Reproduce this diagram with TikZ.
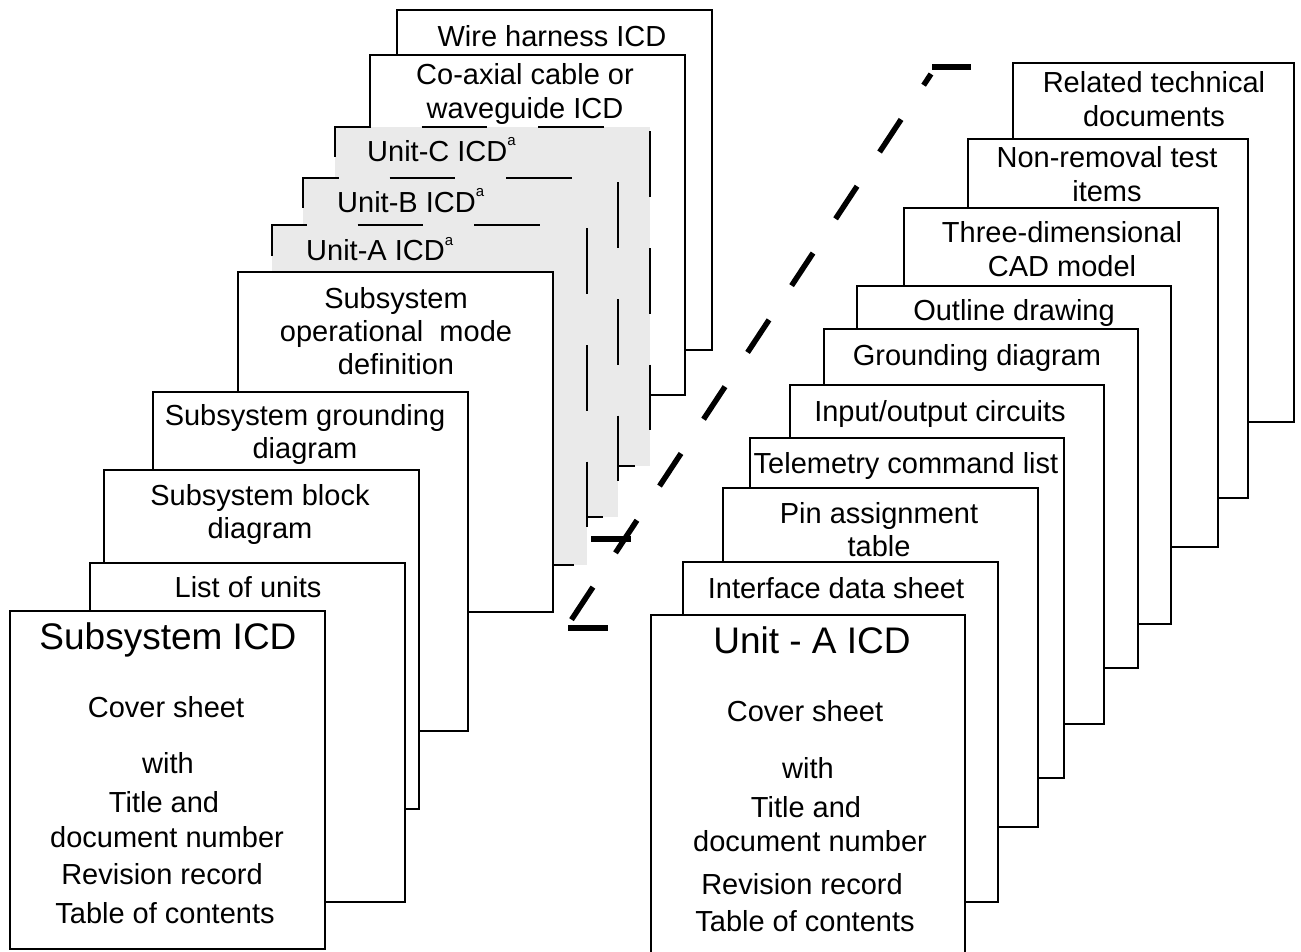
\documentclass[tikz,border=0pt]{standalone}
\usepackage{fontspec}
\setmainfont{Liberation Sans}
\definecolor{pagegrey}{RGB}{234,234,234}
\newcommand\fs{\fontsize{29}{33.3}\selectfont}
\newcommand\fb{\fontsize{37}{40}\selectfont}
\newcommand\ml[1]{\begin{tabular}[t]{@{}c@{}}#1\end{tabular}}
\newcommand\supa{\raisebox{16pt}{\fontsize{15}{15}\selectfont a}}
\tikzset{
  page/.style={draw=black, line width=2pt, fill=white, inner sep=0pt, outer sep=0pt, anchor=north west},
  gpage/.style={fill=pagegrey, inner sep=0pt, outer sep=0pt, anchor=north west},
  gedge/.style={draw=black, line width=2pt, dash pattern=on 65.5pt off 51pt, dash phase=40.5pt},
  txt/.style={font=\fs, inner sep=0pt, anchor=base},
  txtw/.style={font=\fs, inner sep=0pt, anchor=base west},
  ttl/.style={font=\fb, inner sep=0pt, anchor=base},
  zline/.style={line width=5.5pt, dash pattern=on 39pt off 41pt, dash phase=70pt},
  zbar/.style={line width=5.5pt},
}
\begin{document}
\begin{tikzpicture}[x=1pt,y=-1pt]
\useasboundingbox (0,0) rectangle (1301,952);
% ---------------- left stack (back to front)
\node[page, minimum width=315pt, minimum height=340pt] (wire) at (397,10) {};
\node[txt] (twire) at (552,47) {Wire harness ICD};
\node[page, minimum width=315pt, minimum height=340pt] (coax) at (370,55) {};
\node[txt] (tcoax) at (525,85) {\ml{Co-axial cable or\\waveguide ICD}};
% grey unit ICDs
\node[gpage, minimum width=315pt, minimum height=339pt] (uc) at (335,127) {};
\draw[gedge] (uc.south west) -- (uc.north west) -- (uc.north east) -- (uc.south east) -- cycle;
\node[txtw] (tuc) at (367,162) {Unit-C ICD\supa};
\node[gpage, minimum width=315pt, minimum height=339pt] (ub) at (303,178) {};
\draw[gedge] (ub.south west) -- (ub.north west) -- (ub.north east) -- (ub.south east) -- cycle;
\node[txtw] (tub) at (337,213) {Unit-B ICD\supa};
\node[gpage, minimum width=315pt, minimum height=340pt] (ua) at (272,225) {};
\draw[gedge] (ua.south west) -- (ua.north west) -- (ua.north east) -- (ua.south east) -- cycle;
\node[txtw] (tua) at (306,261) {Unit-A ICD\supa};
% white pages
\node[page, minimum width=315pt, minimum height=340pt] (opm) at (238,272) {};
\node[txt] (topm) at (396,308) {\ml{Subsystem\\operational\ \ mode\\definition}};
\node[page, minimum width=315pt, minimum height=339pt] (sgd) at (153,392) {};
\node[txt] (tsgd) at (305,425) {\ml{Subsystem grounding\\diagram}};
\node[page, minimum width=315pt, minimum height=339pt] (sbd) at (104,470) {};
\node[txt] (tsbd) at (260,505) {\ml{Subsystem block\\diagram}};
\node[page, minimum width=315pt, minimum height=339pt] (lou) at (90,563) {};
\node[txt] (tlou) at (248,597) {List of units};
\node[page, minimum width=315pt, minimum height=338pt] (sicd) at (10,611) {};
\node[ttl] (sicd1) at (168,649) {Subsystem ICD};
\node[txt] (sicd2) at (166,717) {Cover sheet};
\node[txt] (sicd3) at (168,773) {with};
\node[txt] (sicd4) at (164,812) {Title and};
\node[txt] (sicd5) at (167,847) {document number};
\node[txt] (sicd6) at (162,884) {Revision record};
\node[txt] (sicd7) at (165,923) {Table of contents};
% ---------------- right stack (back to front)
\node[page, minimum width=281pt, minimum height=359pt] (rel) at (1013,63) {};
\node[txt] (trel) at (1154,93) {\ml{Related technical\\documents}};
\node[page, minimum width=280pt, minimum height=359pt] (nrt) at (968,139) {};
\node[txt] (tnrt) at (1107,168) {\ml{Non-removal test\\items}};
\node[page, minimum width=314pt, minimum height=339pt] (cad) at (904,208) {};
\node[txt] (tcad) at (1062,243) {\ml{Three-dimensional\\CAD model}};
\node[page, minimum width=314pt, minimum height=338pt] (out) at (857,286) {};
\node[txt] (tout) at (1014,320) {Outline drawing};
\node[page, minimum width=314pt, minimum height=339pt] (grd) at (824,329) {};
\node[txt] (tgrd) at (977,365) {Grounding diagram};
\node[page, minimum width=314pt, minimum height=339pt] (io) at (790,385) {};
\node[txt] (tio) at (940,421) {Input/output circuits};
\node[page, minimum width=314pt, minimum height=340pt] (tel) at (750,438) {};
\node[txt] (ttel) at (906,473) {Telemetry command list};
\node[page, minimum width=315pt, minimum height=339pt] (pin) at (723,488) {};
\node[txt] (tpin) at (879,523) {\ml{Pin assignment\\table}};
\node[page, minimum width=315pt, minimum height=340pt] (ids) at (683,562) {};
\node[txt] (tids) at (836,598) {Interface data sheet};
\node[page, minimum width=314pt, minimum height=339pt] (uaicd) at (651,615) {};
\node[ttl] (ua1) at (812,653) {Unit - A ICD};
\node[txt] (ua2) at (805,721) {Cover sheet};
\node[txt] (ua3) at (808,778) {with};
\node[txt] (ua4) at (806,817) {Title and};
\node[txt] (ua5) at (810,851) {document number};
\node[txt] (ua6) at (802,894) {Revision record};
\node[txt] (ua7) at (805,931) {Table of contents};
% ---------------- zoom indication lines
\coordinate (zs) at (566,628);
\coordinate (ze) at (931,74);
\draw[zline] (zs) -- (ze);
\coordinate (b1l) at (568,628);
\coordinate (b1r) at (608,628);
\coordinate (b2l) at (591,539);
\coordinate (b2r) at (631,539);
\coordinate (b3l) at (932,67);
\coordinate (b3r) at (971,67);
\draw[zbar] (b1l) -- (b1r);
\draw[zbar] (b2l) -- (b2r);
\draw[zbar] (b3l) -- (b3r);
\end{tikzpicture}
\end{document}
